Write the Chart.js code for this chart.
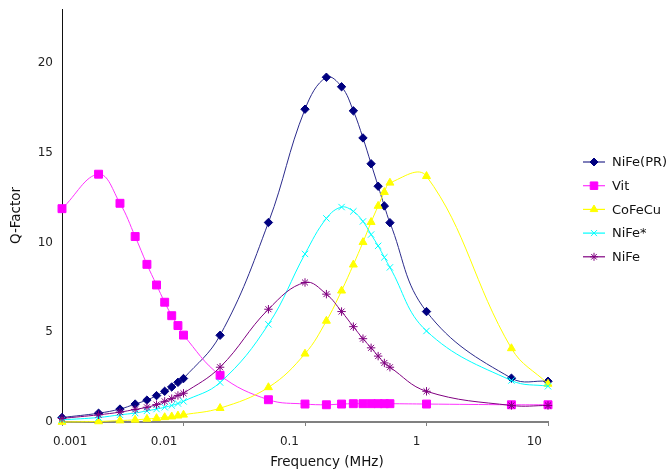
<!DOCTYPE html>
<html><head><meta charset="utf-8">
<script src="https://cdn.jsdelivr.net/npm/chart.js@4"></script>
<style>html,body{margin:0;padding:0;background:#fff}</style>
</head><body>
<canvas id="c" width="669" height="470"></canvas>
<script>
// ---- data ----
const frequencies = [0.001,0.002,0.003,0.004,0.005,0.006,0.007,0.008,0.009,0.01,0.02,0.05,0.1,0.15,0.2,0.25,0.3,0.35,0.4,0.45,0.5,1,5,10];
const seriesNames = ['NiFe(PR)','Vit','CoFeCu','NiFe*','NiFe'];
const nifePR = [0.25,0.49,0.72,1.0,1.22,1.47,1.71,1.95,2.21,2.42,4.83,11.11,17.42,19.2,18.67,17.33,15.82,14.38,13.13,12.03,11.1,6.15,2.44,2.27];
const vit    = [11.88,13.8,12.18,10.33,8.78,7.63,6.67,5.92,5.37,4.84,2.6,1.24,1.0,0.96,1.0,1.02,1.02,1.02,1.02,1.02,1.02,1.0,0.96,0.96];
const cofecu = [0.0,0.03,0.08,0.12,0.17,0.21,0.26,0.3,0.35,0.4,0.77,1.93,3.8,5.63,7.31,8.76,10.01,11.13,12.03,12.8,13.32,13.69,4.1,2.12];
const nifeStar = [0.12,0.25,0.4,0.5,0.62,0.72,0.82,0.92,1.03,1.15,2.2,5.44,9.36,11.34,11.97,11.73,11.17,10.44,9.81,9.17,8.61,5.07,2.31,1.99];
const nife   = [0.2,0.4,0.55,0.7,0.82,0.97,1.15,1.3,1.48,1.6,3.05,6.28,7.77,7.12,6.15,5.31,4.64,4.13,3.67,3.29,3.05,1.71,0.92,0.92];
const xTickValues = [0.001,0.01,0.1,1,10];
const xTickLabels = ['0.001','0.01','0.1','1','10'];
const yTickValues = [0,5,10,15,20];
const xTitle = 'Frequency (MHz)';
const yTitle = 'Q-Factor';

// ---- styles ----
const styles = [
  {line:'#2b2b8c', fill:'#000080', point:'rectRot', r:4.2},
  {line:'#ff33ff', fill:'#ff00ff', point:'rect', r:5.6},
  {line:'#ffff00', fill:'#ffff00', point:'triangle', r:4.6},
  {line:'#00ffff', fill:'#00ffff', point:'crossRot', r:4.5},
  {line:'#800080', fill:'#800080', point:'star', r:4.2}
];
const values = [nifePR, vit, cofecu, nifeStar, nife];

const datasets = values.map((vals, i) => ({
  label: seriesNames[i],
  data: frequencies.map((f, j) => ({x: f, y: vals[j]})),
  borderColor: styles[i].line,
  borderWidth: 1,
  backgroundColor: styles[i].fill,
  pointBackgroundColor: styles[i].fill,
  pointBorderColor: styles[i].fill,
  pointBorderWidth: 1,
  pointStyle: styles[i].point,
  pointRadius: styles[i].r,
  tension: 0.4,
  fill: false,
  clip: false,
  order: 10 - i
}));

const FONT = 'DejaVu Sans, Verdana, sans-serif';

const extras = {
  id: 'extras',
  beforeDraw(chart) {
    // the first frequency label sits to the right of its tick in the reference
    const xs = chart.scales.x;
    const items = xs.getLabelItems();
    if (items && items[0]) {
      items[0].options.textAlign = 'left';
      items[0].options.translation[0] = xs.getPixelForValue(xTickValues[0]) - 9;
    }
  },
  afterDraw(chart) {
    const ctx = chart.ctx;
    ctx.save();
    // x-axis title
    ctx.fillStyle = '#111';
    ctx.font = '13.5px ' + FONT;
    ctx.textAlign = 'center';
    ctx.textBaseline = 'middle';
    ctx.fillText(xTitle, 327, 462);
    // legend
    ctx.font = '13px ' + FONT;
    ctx.textAlign = 'left';
    seriesNames.forEach((name, i) => {
      const y = 162 + i * 23.7;
      const st = styles[i];
      ctx.strokeStyle = st.line;
      ctx.lineWidth = 1.2;
      ctx.beginPath(); ctx.moveTo(583, y); ctx.lineTo(605, y); ctx.stroke();
      ctx.fillStyle = st.fill; ctx.strokeStyle = st.fill; ctx.lineWidth = 1;
      if (Chart.helpers && Chart.helpers.drawPoint) {
        Chart.helpers.drawPoint(ctx, {pointStyle: st.point, radius: st.r * 0.95, borderWidth: 1, rotation: 0}, 594, y);
      }
      ctx.fillStyle = '#111';
      ctx.fillText(name, 612, y + 1);
    });
    ctx.restore();
  }
};

new Chart(document.getElementById('c'), {
  type: 'line',
  data: {datasets},
  options: {
    responsive: false,
    animation: false,
    events: [],
    layout: {padding: {top: 9, right: 121, left: 0, bottom: 0}},
    plugins: {legend: {display: false}, tooltip: {enabled: false}},
    scales: {
      x: {
        type: 'logarithmic',
        min: 0.001, max: 10,
        afterBuildTicks: s => { s.ticks = xTickValues.map(v => ({value: v})); },
        afterFit: s => { s.height = 48; s.paddingLeft = 0; s.paddingRight = 0; },
        ticks: {
          callback: (v, i) => xTickLabels[i],
          font: {family: FONT, size: 12},
          color: '#222',
          padding: 9,
          align: 'end',
          labelOffset: -6,
          maxRotation: 0, minRotation: 0, autoSkip: false
        },
        grid: {drawOnChartArea: false, drawTicks: true, tickLength: 4, color: '#808080', lineWidth: 1},
        border: {display: true, color: '#808080', width: 2}
      },
      y: {
        min: 0, max: 23,
        afterBuildTicks: s => { s.ticks = yTickValues.map(v => ({value: v})); },
        afterFit: s => { s.width = 62; s.paddingTop = 0; s.paddingBottom = 0; },
        ticks: {font: {family: FONT, size: 12}, color: '#222', padding: 9},
        grid: {display: false, drawTicks: false},
        border: {display: true, color: '#111', width: 1},
        title: {display: true, text: yTitle, font: {family: FONT, size: 13.5}, color: '#111', padding: {top: 8, bottom: 0}}
      }
    }
  },
  plugins: [extras]
});
</script>
</body></html>
